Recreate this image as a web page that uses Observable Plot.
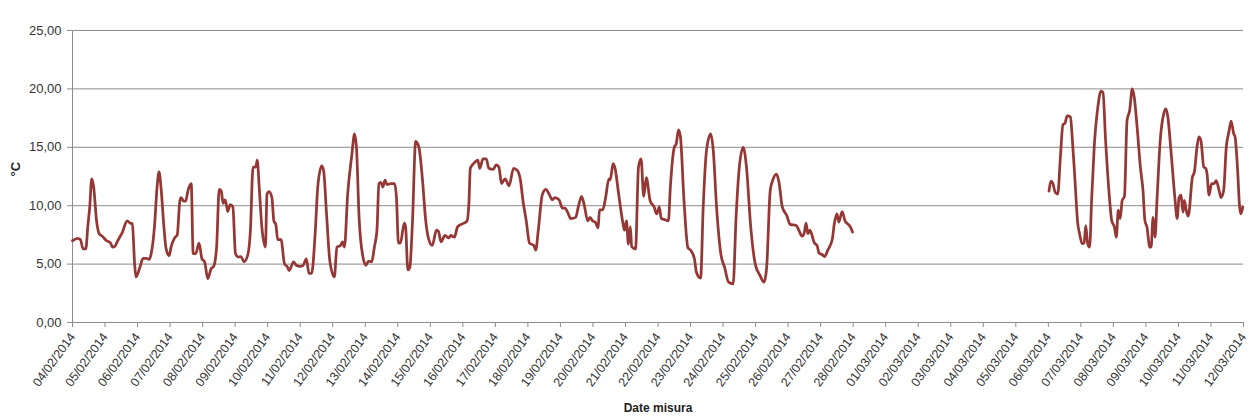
<!DOCTYPE html>
<html><head><meta charset="utf-8">
<script src="https://cdn.jsdelivr.net/npm/d3@7"></script>
<script src="https://cdn.jsdelivr.net/npm/@observablehq/plot@0.6"></script>
<style>html,body{margin:0;padding:0;background:#fff;} svg{display:block}</style>
</head><body><div id="chart"></div>
<script>
const dateLabels = ["04/02/2014","05/02/2014","06/02/2014","07/02/2014","08/02/2014","09/02/2014","10/02/2014","11/02/2014","12/02/2014","13/02/2014","14/02/2014","15/02/2014","16/02/2014","17/02/2014","18/02/2014","19/02/2014","20/02/2014","21/02/2014","22/02/2014","23/02/2014","24/02/2014","25/02/2014","26/02/2014","27/02/2014","28/02/2014","01/03/2014","02/03/2014","03/03/2014","04/03/2014","05/03/2014","06/03/2014","07/03/2014","08/03/2014","09/03/2014","10/03/2014","11/03/2014","12/03/2014"];
const yTicks = [0, 5, 10, 15, 20, 25];

// elapsed days since 04/02/2014 00:00 and temperature (°C)
const seg1Days = [0.00,0.16,0.24,0.33,0.41,0.47,0.53,0.59,0.65,0.74,0.82,0.91,1.05,1.17,1.23,1.30,1.39,1.53,1.68,1.78,1.84,1.91,1.95,2.07,2.17,2.27,2.35,2.42,2.52,2.60,2.66,2.72,2.81,2.87,2.97,3.03,3.14,3.22,3.30,3.34,3.42,3.48,3.55,3.65,3.71,3.79,3.89,3.98,4.06,4.16,4.26,4.34,4.43,4.51,4.57,4.63,4.69,4.73,4.77,4.85,4.93,5.01,5.10,5.18,5.27,5.39,5.47,5.55,5.63,5.68,5.74,5.82,5.93,5.98,6.04,6.13,6.19,6.25,6.31,6.41,6.52,6.60,6.66,6.80,6.88,6.99,7.09,7.19,7.27,7.35,7.46,7.54,7.66,7.72,7.81,7.91,8.05,8.13,8.24,8.30,8.36,8.46,8.59,8.67,8.73,8.81,8.93,9.02,9.10,9.20,9.28,9.36,9.42,9.48,9.54,9.61,9.67,9.80,9.90,9.96,10.02,10.08,10.20,10.24,10.31,10.37,10.45,10.55,10.65,10.76,10.86,10.94,11.06,11.19,11.25,11.33,11.45,11.57,11.63,11.74,11.84,12.03,12.13,12.19,12.23,12.33,12.46,12.52,12.62,12.72,12.80,12.93,13.03,13.11,13.19,13.30,13.42,13.56,13.68,13.77,13.85,13.95,14.05,14.18,14.24,14.32,14.44,14.55,14.65,14.75,14.83,14.96,15.06,15.14,15.22,15.32,15.47,15.55,15.65,15.73,15.84,15.91,15.99,16.07,16.16,16.20,16.30,16.39,16.49,16.53,16.62,16.68,16.79,16.91,16.97,17.03,17.09,17.15,17.19,17.31,17.40,17.48,17.56,17.64,17.76,17.88,17.96,18.04,18.10,18.22,18.32,18.38,18.50,18.56,18.63,18.69,18.80,18.92,19.00,19.12,19.18,19.31,19.39,19.49,19.62,19.70,19.80,19.93,20.05,20.17,20.31,20.40,20.50,20.62,20.72,20.85,20.99,21.14,21.26,21.34,21.45,21.53,21.64,21.72,21.82,21.96,22.06,22.25,22.33,22.43,22.49,22.55,22.61,22.67,22.81,22.89,22.95,23.05,23.12,23.22,23.36,23.42,23.50,23.56,23.66,23.75,23.85,23.91,23.98];
const seg1Temps = [7.0,7.2,7.1,6.3,6.3,8.2,9.9,12.3,11.6,8.7,7.6,7.4,7.0,6.8,6.45,6.5,7.0,7.7,8.7,8.5,8.45,5.0,3.9,4.7,5.5,5.5,5.4,5.9,8.2,11.6,12.9,11.6,8.2,6.45,5.7,6.45,7.25,7.5,10.4,10.7,10.4,10.4,11.3,11.9,5.9,5.9,6.8,5.45,5.2,3.75,4.6,4.8,6.45,11.4,11.3,10.2,10.5,10.1,9.5,10.1,9.9,5.9,5.6,5.65,5.2,5.8,7.9,13.3,13.3,13.9,11.6,8.2,6.45,11.0,11.2,10.7,8.7,8.4,7.1,7.1,5.0,4.8,4.45,5.2,4.9,4.8,4.9,5.45,4.2,4.2,7.6,11.6,13.4,13.0,9.3,5.3,3.9,6.45,6.6,6.9,6.45,11.0,14.4,16.15,15.0,9.0,5.6,4.9,5.25,5.2,6.45,7.9,11.9,12.0,11.6,12.2,11.8,11.9,11.9,10.7,6.8,6.8,8.5,8.2,4.5,4.7,8.5,15.5,15.0,12.2,8.7,7.25,6.6,7.9,7.8,6.9,7.45,7.25,7.45,7.3,8.2,8.5,8.7,10.4,13.2,13.6,13.9,13.2,14.0,14.0,13.2,13.1,13.5,13.3,11.9,12.3,11.7,13.2,13.0,12.2,10.4,8.7,6.8,6.6,6.2,7.9,10.9,11.4,11.0,10.5,10.7,10.5,9.8,9.8,9.45,8.9,9.0,9.9,10.8,10.1,8.7,9.0,8.7,8.6,8.1,9.65,9.65,10.7,12.3,12.2,13.6,13.2,11.0,8.7,7.9,8.7,6.7,8.2,6.5,6.3,13.3,14.0,10.8,12.4,10.4,9.9,9.3,9.9,8.9,8.8,8.7,11.6,15.0,15.3,16.5,15.9,10.4,6.4,6.2,5.45,4.3,3.8,9.9,14.7,16.15,14.7,9.9,5.9,4.7,3.45,3.3,9.0,13.3,15.0,13.3,8.2,5.0,4.0,3.45,4.7,11.3,12.2,12.7,12.0,9.9,9.15,8.4,8.3,7.9,7.4,7.6,8.5,7.6,7.9,6.8,6.6,5.95,5.8,5.65,6.2,7.15,8.45,9.3,8.6,9.5,8.7,8.4,8.2,7.75];

const seg2Days = [30.02,30.08,30.14,30.21,30.29,30.37,30.45,30.51,30.58,30.68,30.74,30.82,30.90,30.96,31.04,31.10,31.15,31.21,31.27,31.33,31.41,31.52,31.62,31.68,31.76,31.87,31.95,32.03,32.09,32.15,32.21,32.27,32.34,32.42,32.50,32.58,32.64,32.73,32.83,32.91,32.97,33.03,33.12,33.16,33.22,33.28,33.34,33.44,33.55,33.61,33.67,33.77,33.89,33.96,34.02,34.08,34.14,34.18,34.24,34.30,34.43,34.49,34.57,34.63,34.69,34.78,34.84,34.88,34.94,35.02,35.10,35.16,35.25,35.31,35.39,35.47,35.55,35.62,35.70,35.74,35.82,35.88,35.92,35.98];
const seg2Temps = [11.25,12.1,11.9,11.15,11.0,14.15,16.95,17.05,17.7,17.6,15.6,12.15,8.6,7.6,6.75,6.8,8.3,6.75,6.45,10.45,15.0,18.4,19.8,19.7,15.6,11.0,8.7,8.2,7.3,9.6,8.9,10.45,10.8,17.3,18.15,20.0,19.3,16.7,13.3,11.3,8.7,8.2,6.45,6.45,9.0,7.3,10.45,15.6,17.9,18.3,17.7,14.7,10.7,8.9,10.7,10.9,9.45,10.45,9.6,9.1,12.45,12.9,15.0,15.9,15.6,13.3,13.2,12.7,10.9,11.9,11.9,12.15,11.3,10.7,11.3,15.0,16.3,17.25,16.15,15.9,13.0,9.9,9.3,9.9];

const parse = d3.utcParse("%d/%m/%Y");
const tickDates = dateLabels.map(parse);
const start = tickDates[0];
const toDate = d => new Date(+start + d * 864e5);
const data = [
  ...seg1Days.map((d, i) => ({t: toDate(d), v: seg1Temps[i], s: "a"})),
  ...seg2Days.map((d, i) => ({t: toDate(d), v: seg2Temps[i], s: "b"}))
];
const fmt = v => v.toFixed(2).replace(".", ",");
const grey = "#8c8c8c";

const chart = Plot.plot({
  width: 1253, height: 418,
  marginLeft: 72, marginRight: 10, marginTop: 30, marginBottom: 96,
  style: {fontFamily: "'Liberation Sans', Arial, sans-serif", background: "#fff", color: "#333"},
  x: {type: "utc", domain: [tickDates[0], tickDates[tickDates.length - 1]]},
  y: {domain: [0, 25]},
  marks: [
    Plot.gridY(yTicks, {stroke: grey, strokeOpacity: 1, strokeWidth: 1}),
    Plot.ruleX([tickDates[0]], {stroke: grey}),
    Plot.axisY(yTicks, {tickFormat: fmt, tickSize: 5, tickPadding: 6, fontSize: 13, label: null, stroke: grey}),
    Plot.axisX(tickDates, {tickFormat: d3.utcFormat("%d/%m/%Y"), tickRotate: -54, tickSize: 5, tickPadding: 7, fontSize: 12.5, label: null, stroke: grey}),
    Plot.line(data, {x: "t", y: "v", z: "s", stroke: "#953735", strokeWidth: 2.75, curve: "monotone-x"}),
    Plot.text(["°C"], {frameAnchor: "left", dx: -57, rotate: -90, fontWeight: "bold", fontSize: 13, fill: "#222"}),
    Plot.text(["Date misura"], {frameAnchor: "bottom", lineAnchor: "middle", dy: 86, fontWeight: "bold", fontSize: 12, fill: "#222"})
  ]
});
document.getElementById("chart").appendChild(chart);
</script>
</body></html>
